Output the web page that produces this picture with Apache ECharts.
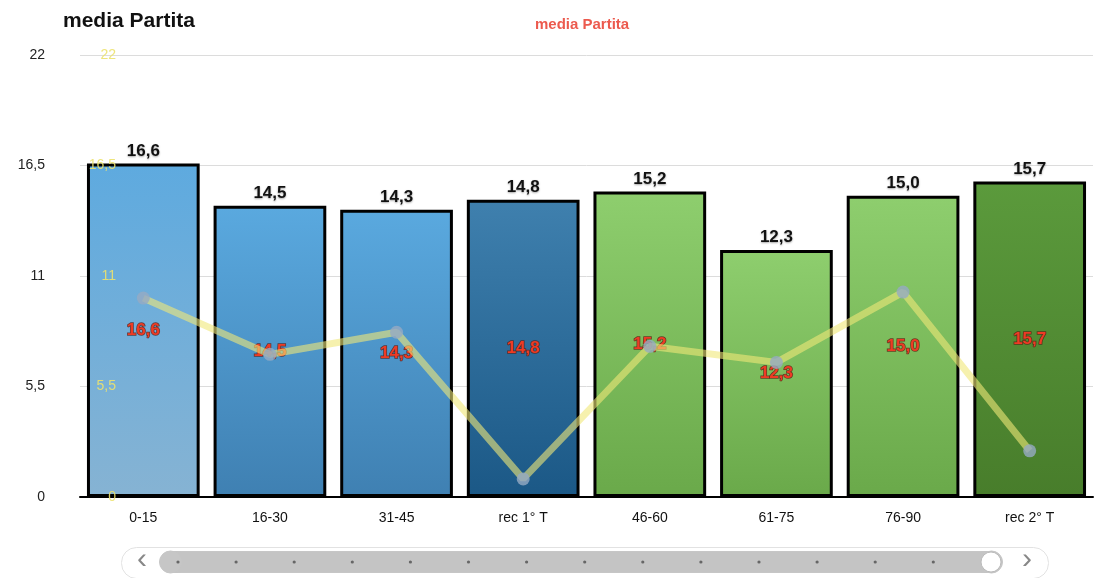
<!DOCTYPE html>
<html>
<head>
<meta charset="utf-8">
<title>media Partita</title>
<script src="https://cdn.jsdelivr.net/npm/echarts@6/dist/echarts.min.js"></script>
<style>
    html, body { margin: 0; padding: 0; background: #fff; }
    #chart { width: 1103px; height: 578px; }
</style>
</head>
<body>
<div id="chart"></div>
<script>
// categorie (intervalli di tempo)
const categories = ['0-15', '16-30', '31-45', 'rec 1° T', '46-60', '61-75', '76-90', 'rec 2° T']
// media partita per intervallo
const mediaValues = [16.6, 14.5, 14.3, 14.8, 15.2, 12.3, 15.0, 15.7]
// linea gialla
const lineValues = [9.9, 7.1, 8.2, 0.9, 7.5, 6.7, 10.2, 2.3]
// colori barre: [alto, basso]
const barColors = [
    ['#5eaadf', '#86b3d3'],
    ['#5aa9df', '#3f80b2'],
    ['#5aa9df', '#3f80b2'],
    ['#3f80ae', '#1b5886'],
    ['#8ece6e', '#6aa94a'],
    ['#8ece6e', '#6aa94a'],
    ['#8ece6e', '#6aa94a'],
    ['#5b9a3c', '#487d2b']
]

const comma = (v) => String(v).replace('.', ',')
const fmt1 = (p) => p.value.toFixed(1).replace('.', ',')
const font = 'Arial, Liberation Sans, sans-serif'

const chart = echarts.init(document.getElementById('chart'))

// puntini decorativi dello slider
const sliderDots = []
for (let i = 0; i < 14; i++) {
    sliderDots.push({
        type: 'circle',
        shape: { cx: 178 + i * 58.1, cy: 562, r: 1.6 },
        style: { fill: '#666' },
        z: 200
    })
}

const option = {
    animation: false,
    title: {
        text: 'media Partita',
        left: 58,
        top: 6,
        textStyle: { fontSize: 21, fontWeight: 'bold', color: '#111', fontFamily: font }
    },
    legend: {
        data: ['media Partita'],
        icon: 'none',
        top: 12,
        left: 525,
        itemWidth: 0,
        textStyle: { color: '#ec5a4e', fontSize: 15, fontWeight: 'bold', fontFamily: font }
    },
    grid: { left: 80, right: 10, top: 55, bottom: 81 },
    xAxis: {
        type: 'category',
        data: categories,
        axisTick: { show: false },
        axisLine: { lineStyle: { color: '#000', width: 2 } },
        axisLabel: { color: '#111', fontSize: 14, margin: 14, fontFamily: font }
    },
    yAxis: [{
        type: 'value',
        min: 0,
        max: 22,
        interval: 5.5,
        axisLine: { show: false },
        axisTick: { show: false },
        splitLine: { lineStyle: { color: '#dcdcdc', width: 1 } },
        axisLabel: { color: '#222', fontSize: 14, margin: 35, formatter: comma, fontFamily: font }
    }, {
        type: 'value',
        position: 'left',
        offset: -44,
        min: 0,
        max: 22,
        interval: 5.5,
        z: 10,
        axisLine: { show: false },
        axisTick: { show: false },
        splitLine: { show: false },
        axisLabel: { color: 'rgba(236,226,110,0.9)', fontSize: 14, margin: 8, formatter: comma, fontFamily: font }
    }],
    dataZoom: [{
        type: 'slider',
        xAxisIndex: 0,
        start: 0,
        end: 100,
        left: 168,
        right: 112,
        bottom: 5,
        height: 22,
        showDetail: false,
        showDataShadow: false,
        brushSelect: false,
        backgroundColor: '#c6c6c6',
        borderColor: '#c6c6c6',
        borderRadius: 11,
        fillerColor: 'rgba(196,196,196,1)',
        handleSize: '100%',
        handleIcon: 'circle',
        handleStyle: { color: '#c6c6c6', borderColor: '#c6c6c6' },
        moveHandleSize: 0,
        dataBackground: { lineStyle: { opacity: 0 }, areaStyle: { opacity: 0 } }
    }],
    graphic: [
        {
            type: 'rect',
            left: 121, top: 547,
            shape: { width: 927, height: 31, r: 15 },
            style: { fill: '#fff', stroke: '#e2e2e2', lineWidth: 1 },
            z: -1
        },
        { type: 'text', left: 137, top: 545, style: { text: '‹', fontSize: 30, fill: '#888' } },
        { type: 'text', left: 1022, top: 545, style: { text: '›', fontSize: 30, fill: '#888' } },
        {
            type: 'circle',
            shape: { cx: 991, cy: 562, r: 10 },
            style: { fill: '#fff', stroke: '#bbb', lineWidth: 1 },
            z: 200
        }
    ].concat(sliderDots),
    series: [{
        name: 'media Partita',
        type: 'bar',
        data: mediaValues.map((v, i) => ({
            value: v,
            itemStyle: {
                color: new echarts.graphic.LinearGradient(0, 0, 0, 1, [
                    { offset: 0, color: barColors[i][0] },
                    { offset: 1, color: barColors[i][1] }
                ])
            }
        })),
        barCategoryGap: '11%',
        itemStyle: { borderColor: '#000', borderWidth: 3 },
        label: {
            show: true,
            position: 'inside',
            formatter: fmt1,
            color: '#ee3b24',
            fontSize: 17,
            fontWeight: 'bold',
            textBorderColor: 'rgba(90,30,20,0.8)',
            textBorderWidth: 1.5,
            fontFamily: font
        },
        z: 2
    }, {
        name: 'top',
        type: 'bar',
        data: mediaValues,
        barGap: '-100%',
        barCategoryGap: '11%',
        itemStyle: { color: 'transparent' },
        label: {
            show: true,
            position: 'top',
            distance: 4,
            formatter: fmt1,
            color: '#111',
            fontSize: 17,
            fontWeight: 'bold',
            textShadowColor: 'rgba(0,0,0,0.35)',
            textShadowBlur: 2,
            textShadowOffsetY: 1,
            fontFamily: font
        },
        silent: true,
        z: 1
    }, {
        name: 'linea',
        type: 'line',
        yAxisIndex: 1,
        data: lineValues,
        symbol: 'circle',
        symbolSize: 13,
        lineStyle: { color: 'rgba(240,232,120,0.6)', width: 7 },
        itemStyle: { color: 'rgba(150,170,195,0.8)' },
        z: 5
    }]
}

chart.setOption(option)
</script>
</body>
</html>
